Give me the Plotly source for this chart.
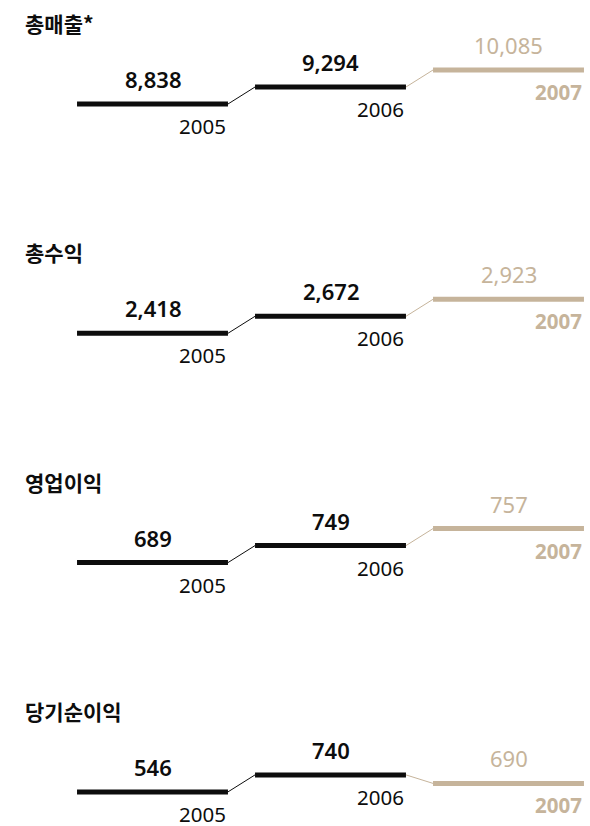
import plotly.graph_objects as go

# ---- data ----
years = [2005, 2006, 2007]
panel_titles = ["총매출*", "총수익", "영업이익", "당기순이익"]
sales = [8838, 9294, 10085]
gross_profit = [2418, 2672, 2923]
operating_income = [689, 749, 757]
net_income = [546, 740, 690]
series = [sales, gross_profit, operating_income, net_income]

# ---- style ----
W, H = 590, 826
BLACK = "#0d0d0d"
TAN = "#c6b49b"
year_colors = [BLACK, BLACK, TAN]
HALF = 0.424              # half width of a year segment (x units)
PITCH = 229.3             # vertical pitch of panels (px)
BASE0 = 104               # px of lowest level in the first panel
STEP = [17, 17, 17, 8.5]  # px per category level for each panel
NUM_FONT = "Noto Sans, Open Sans, sans-serif"
KR_FONT = "Noto Sans CJK KR, sans-serif"

fig = go.Figure()
annotations = []

for k, vals in enumerate(series):
    yname = "y" if k == 0 else f"y{k + 1}"
    axkey = "yaxis" if k == 0 else f"yaxis{k + 1}"
    labels = [f"{v:,}" for v in vals]
    order = [f"{v:,}" for v in sorted(vals)]

    # horizontal segments
    for i, (yr, lab) in enumerate(zip(years, labels)):
        fig.add_trace(go.Scatter(
            x=[yr - HALF, yr + HALF], y=[lab, lab], yaxis=yname, xaxis="x",
            mode="lines", line=dict(color=year_colors[i], width=5),
            hoverinfo="skip", showlegend=False))
    # thin connectors
    for i in range(len(years) - 1):
        fig.add_trace(go.Scatter(
            x=[years[i] + HALF, years[i + 1] - HALF],
            y=[labels[i], labels[i + 1]], yaxis=yname, xaxis="x",
            mode="lines", line=dict(color=year_colors[i + 1], width=1),
            hoverinfo="skip", showlegend=False))

    # axis placement
    p0 = BASE0 + k * PITCH
    top_px, bot_px = p0 - 70, min(p0 + 30, H)
    s = STEP[k]
    fig.update_layout({axkey: dict(
        type="category", categoryarray=order, categoryorder="array",
        domain=[1 - bot_px / H, 1 - top_px / H],
        range=[-(bot_px - p0) / s, (p0 - top_px) / s],
        anchor="x", visible=False, fixedrange=True)})

    # labels
    for i, (yr, lab) in enumerate(zip(years, labels)):
        idx = order.index(lab)
        last = i == len(years) - 1
        annotations.append(dict(
            x=yr, y=idx, xref="x", yref=yname, text=lab, showarrow=False,
            xanchor="center", yanchor="middle", yshift=25,
            font=dict(family=NUM_FONT, size=22, color=year_colors[i],
                      weight=400 if last else 600)))
        annotations.append(dict(
            x=yr + HALF, y=idx, xref="x", yref=yname, text=str(yr),
            showarrow=False, xanchor="right", yanchor="middle", yshift=-22,
            font=dict(family=NUM_FONT, size=20.5, color=year_colors[i],
                      weight=700 if last else 400)))

    # panel title
    annotations.append(dict(
        x=23 / W, y=1 - (23 + k * PITCH) / H, xref="paper", yref="paper",
        text=panel_titles[k], showarrow=False, xanchor="left",
        yanchor="middle",
        font=dict(family=KR_FONT, size=21, color=BLACK, weight=700)))

x0 = 2005 - 152.5 / 178
fig.update_layout(
    width=W, height=H,
    margin=dict(l=0, r=0, t=0, b=0),
    paper_bgcolor="white", plot_bgcolor="white",
    xaxis=dict(range=[x0, x0 + W / 178], visible=False, fixedrange=True,
               anchor="y"),
    annotations=annotations,
    showlegend=False,
)

fig.write_html(
    "out.html",
    config={"displayModeBar": False},
    post_script="document.body.style.margin='0';"
                "document.body.style.overflow='hidden';",
)
